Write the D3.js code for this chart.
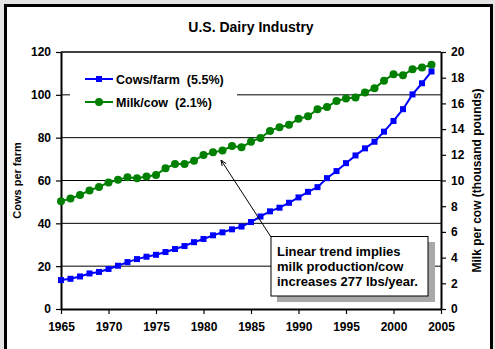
<!DOCTYPE html>
<html>
<head>
<meta charset="utf-8">
<script src="https://cdn.jsdelivr.net/npm/d3@7"></script>
<style>
  body { margin: 0; background: #e4e4e4; }
  svg { display: block; font-family: "Liberation Sans", Arial, sans-serif; }
</style>
</head>
<body>
<svg id="chart" width="495" height="349"></svg>
<script>
// data
const years = d3.range(1965, 2005);
const cowsPerFarm = [13.5, 14.1, 15.2, 16.6, 17.3, 18.7, 20.2, 21.9, 23.3, 24.4,
  25.3, 26.6, 28.0, 29.4, 31.2, 32.7, 34.4, 35.8, 37.2, 38.5,
  40.6, 43.2, 45.6, 47.3, 49.6, 52.1, 54.7, 56.9, 61.1, 64.4,
  68.1, 71.7, 75.0, 78.1, 82.8, 87.8, 93.3, 100.2, 105.4, 110.9];
const milkPerCow = [8.39, 8.59, 8.88, 9.22, 9.5, 9.84, 10.05, 10.26, 10.18, 10.31,
  10.42, 10.96, 11.28, 11.28, 11.54, 11.98, 12.19, 12.34, 12.68, 12.58,
  13.02, 13.31, 13.86, 14.15, 14.33, 14.8, 15.0, 15.54, 15.72, 16.19,
  16.38, 16.46, 16.85, 17.17, 17.77, 18.27, 18.19, 18.66, 18.79, 19.0];
const xTicks = [1965, 1970, 1975, 1980, 1985, 1990, 1995, 2000, 2005];
const leftTicks = [0, 20, 40, 60, 80, 100, 120];
const rightTicks = [0, 2, 4, 6, 8, 10, 12, 14, 16, 18, 20];
const legendLabels = ['Cows/farm  (5.5%)', 'Milk/cow  (2.1%)'];
const noteLines = ['Linear trend implies', 'milk production/cow', 'increases 277 lbs/year.'];

const svg = d3.select('#chart');

// outer frame
svg.append('rect')
  .attr('x', 5.5).attr('y', 5.5)
  .attr('width', 486).attr('height', 352)
  .attr('fill', '#fff')
  .attr('stroke', '#000')
  .attr('stroke-width', 3);

const x = d3.scaleLinear().domain([1965, 2005]).range([61, 441]);
const yL = d3.scaleLinear().domain([0, 120]).range([309, 52]);
const yR = d3.scaleLinear().domain([0, 20]).range([309, 52]);

// gridlines
svg.append('g')
  .selectAll('line')
  .data(leftTicks.filter((d) => d > 0 && d < 120))
  .enter()
  .append('line')
  .attr('x1', x(1965)).attr('x2', x(2005))
  .attr('y1', (d) => yL(d)).attr('y2', (d) => yL(d))
  .attr('stroke', '#000')
  .attr('stroke-width', 1);

// top border of plot
svg.append('line')
  .attr('x1', x(1965)).attr('x2', x(2005))
  .attr('y1', yL(120)).attr('y2', yL(120))
  .attr('stroke', '#000').attr('stroke-width', 1.3);

const styleAxis = (g) => {
  g.select('.domain').attr('stroke-width', 2);
  g.selectAll('.tick line').attr('stroke-width', 1.2);
  g.selectAll('text')
    .attr('font-size', 12)
    .attr('font-weight', 'bold')
    .attr('font-family', '"Liberation Sans", Arial, sans-serif')
    .attr('fill', '#000');
};

svg.append('g')
  .attr('transform', `translate(0,${yL(0)})`)
  .call(d3.axisBottom(x).tickValues(xTicks).tickFormat(d3.format('d')).tickSize(5).tickSizeOuter(0).tickPadding(8))
  .call(styleAxis);

svg.append('g')
  .attr('transform', `translate(${x(1965)},0)`)
  .call(d3.axisLeft(yL).tickValues(leftTicks).tickSize(5).tickSizeOuter(0).tickPadding(5))
  .call(styleAxis);

svg.append('g')
  .attr('transform', `translate(${x(2005)},0)`)
  .call(d3.axisRight(yR).tickValues(rightTicks).tickSize(5).tickSizeOuter(0).tickPadding(5))
  .call(styleAxis);

// axis titles
svg.append('text')
  .attr('transform', `translate(21,${(yL(0) + yL(120)) / 2}) rotate(-90)`)
  .attr('text-anchor', 'middle')
  .attr('font-size', 11).attr('font-weight', 'bold')
  .text('Cows per farm');

svg.append('text')
  .attr('transform', `translate(481,${(yL(0) + yL(120)) / 2}) rotate(-90)`)
  .attr('text-anchor', 'middle')
  .attr('font-size', 12).attr('font-weight', 'bold')
  .text('Milk per cow (thousand pounds)');

svg.append('text')
  .attr('x', 251).attr('y', 32)
  .attr('text-anchor', 'middle')
  .attr('font-size', 14).attr('font-weight', 'bold')
  .text('U.S. Dairy Industry');

// series
const lineL = d3.line().x((d, i) => x(years[i])).y((d) => yL(d));
const lineR = d3.line().x((d, i) => x(years[i])).y((d) => yR(d));

svg.append('path')
  .datum(milkPerCow)
  .attr('d', lineR)
  .attr('fill', 'none').attr('stroke', '#008000').attr('stroke-width', 2);

svg.append('g')
  .selectAll('circle')
  .data(milkPerCow)
  .enter()
  .append('circle')
  .attr('cx', (d, i) => x(years[i]))
  .attr('cy', (d) => yR(d))
  .attr('r', 4)
  .attr('fill', '#008000');

svg.append('path')
  .datum(cowsPerFarm)
  .attr('d', lineL)
  .attr('fill', 'none').attr('stroke', '#0000ff').attr('stroke-width', 2);

svg.append('g')
  .selectAll('rect')
  .data(cowsPerFarm)
  .enter()
  .append('rect')
  .attr('x', (d, i) => x(years[i]) - 3)
  .attr('y', (d) => yL(d) - 3)
  .attr('width', 6).attr('height', 6)
  .attr('fill', '#0000ff');

// legend
const legend = svg.append('g');
legend.append('rect')
  .attr('x', 70).attr('y', 64)
  .attr('width', 167).attr('height', 50)
  .attr('fill', '#fff');

const legendItems = legend.selectAll('g')
  .data(legendLabels)
  .enter()
  .append('g')
  .attr('transform', (d, i) => `translate(0,${79 + i * 23})`);

legendItems.append('line')
  .attr('x1', 85).attr('x2', 113)
  .attr('stroke', (d, i) => (i === 0 ? '#0000ff' : '#008000'))
  .attr('stroke-width', 2);

legendItems.filter((d, i) => i === 0)
  .append('rect')
  .attr('x', 96).attr('y', -3).attr('width', 6).attr('height', 6)
  .attr('fill', '#0000ff');

legendItems.filter((d, i) => i === 1)
  .append('circle')
  .attr('cx', 99).attr('r', 4)
  .attr('fill', '#008000');

legendItems.append('text')
  .attr('x', 116).attr('y', 4.5)
  .attr('font-size', 12.5).attr('font-weight', 'bold')
  .attr('xml:space', 'preserve')
  .style('white-space', 'pre')
  .text((d) => d);

// annotation arrow
svg.append('defs')
  .append('marker')
  .attr('id', 'arrow')
  .attr('viewBox', '0 -5 10 10')
  .attr('refX', 10).attr('refY', 0)
  .attr('markerWidth', 6).attr('markerHeight', 6)
  .attr('orient', 'auto')
  .append('path')
  .attr('d', 'M0,-4L10,0L0,4')
  .attr('fill', 'none')
  .attr('stroke', '#000')
  .attr('stroke-width', 1.5);

svg.append('line')
  .attr('x1', 271).attr('y1', 237)
  .attr('x2', 221).attr('y2', 160)
  .attr('stroke', '#000').attr('stroke-width', 1)
  .attr('marker-end', 'url(#arrow)');

// annotation box with shadow
svg.append('rect')
  .attr('x', 277).attr('y', 242)
  .attr('width', 158).attr('height', 60)
  .attr('fill', '#a8a8a8');

svg.append('rect')
  .attr('x', 271).attr('y', 236.5)
  .attr('width', 157).attr('height', 59.5)
  .attr('fill', '#fff')
  .attr('stroke', '#000').attr('stroke-width', 1);

svg.append('g')
  .selectAll('text')
  .data(noteLines)
  .enter()
  .append('text')
  .attr('x', 277)
  .attr('y', (d, i) => 256 + i * 15)
  .attr('font-size', 13).attr('font-weight', 'bold')
  .text((d) => d);
</script>
</body>
</html>
